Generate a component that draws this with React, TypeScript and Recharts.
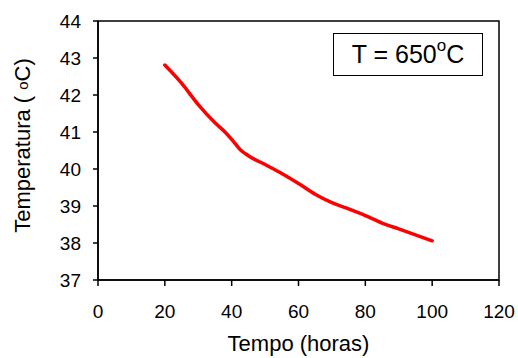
import { LineChart, Line, XAxis, YAxis, ReferenceArea } from 'recharts'

// Tempo (horas)
const tempo = [20, 25, 30, 35, 38, 40, 42.5, 45, 50, 55, 60, 65, 70, 75, 80, 85, 90, 95, 100]
// Temperatura (ºC)
const temperatura = [
  42.81, 42.32, 41.74, 41.25, 41.0, 40.8, 40.53, 40.36, 40.12, 39.88, 39.61, 39.32, 39.09,
  38.92, 38.74, 38.54, 38.38, 38.22, 38.06,
]
const xTicks = [0, 20, 40, 60, 80, 100, 120]
const yTicks = [37, 38, 39, 40, 41, 42, 43, 44]

const data = tempo.map((t, i) => ({ tempo: t, temp: temperatura[i] }))

const font = 'Liberation Sans, Arial, sans-serif'
const tick = { fontSize: 19, fill: '#000', fontFamily: font }

function YLabel(props: any) {
  const { viewBox } = props
  const cx = viewBox.x + 22
  const cy = viewBox.y + viewBox.height / 2 - 5
  return (
    <text
      x={cx}
      y={cy}
      transform={`rotate(-90 ${cx} ${cy})`}
      textAnchor="middle"
      dominantBaseline="central"
      fontSize={22}
      fontFamily={font}
      fill="#000"
    >
      Temperatura ( <tspan fontSize={15}>o</tspan>C)
    </text>
  )
}

function XLabel(props: any) {
  const { viewBox } = props
  return (
    <text
      x={viewBox.x + viewBox.width / 2}
      y={351}
      textAnchor="middle"
      fontSize={22}
      fontFamily={font}
      fill="#000"
    >
      Tempo (horas)
    </text>
  )
}

export default function App() {
  return (
    <div style={{ position: 'absolute', left: 0, top: 0, width: 518, height: 358, background: '#fff' }}>
      <LineChart width={518} height={358} data={data} margin={{ top: 21, right: 19, bottom: 0, left: 0 }}>
        <XAxis
          dataKey="tempo"
          type="number"
          domain={[0, 120]}
          ticks={xTicks}
          height={78}
          tick={tick}
          tickSize={6}
          tickMargin={19}
          axisLine={{ stroke: '#000', strokeWidth: 1.5 }}
          tickLine={{ stroke: '#000', strokeWidth: 1.5 }}
          label={<XLabel />}
        />
        <YAxis
          type="number"
          domain={[37, 44]}
          ticks={yTicks}
          width={98}
          tick={tick}
          tickSize={5}
          tickMargin={12}
          axisLine={{ stroke: '#000', strokeWidth: 1.5 }}
          tickLine={{ stroke: '#000', strokeWidth: 1.5 }}
          label={<YLabel />}
        />
        <ReferenceArea x1={0} x2={120} y1={37} y2={44} fill="none" stroke="#000" strokeWidth={1.5} />
        <Line
          type="monotone"
          dataKey="temp"
          stroke="#ff0000"
          strokeWidth={3.5}
          dot={false}
          strokeLinecap="round"
          strokeLinejoin="round"
          isAnimationActive={false}
        />
      </LineChart>
      <div
        style={{
          position: 'absolute',
          left: 333,
          top: 33,
          width: 150,
          height: 43,
          boxSizing: 'border-box',
          border: '1.5px solid #000',
          display: 'flex',
          alignItems: 'center',
          justifyContent: 'center',
          fontFamily: font,
          fontSize: 25,
          color: '#000',
        }}
      >
        <span>
          T = 650<sup style={{ fontSize: 17, verticalAlign: 'top', position: 'relative', top: -4 }}>o</sup>C
        </span>
      </div>
    </div>
  )
}
